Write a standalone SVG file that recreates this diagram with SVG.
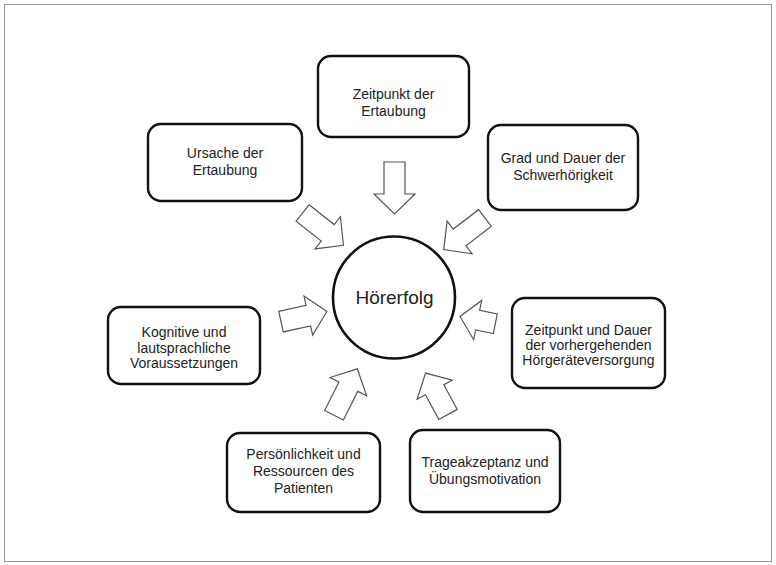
<svg xmlns="http://www.w3.org/2000/svg" width="776" height="565" viewBox="0 0 776 565">
<style>
.box{fill:#fff;stroke:#111;stroke-width:2.4}
.t{font-family:"Liberation Sans",Arial,sans-serif;font-size:14px;fill:#222;text-anchor:middle}
.arr{fill:#fff;stroke:#555;stroke-width:1.2;stroke-linejoin:miter}
</style>
<defs>
<path id="arrL" d="M0,-10.5 H32 V-20.5 L52,0 L32,20.5 V10.5 H0 Z"/>
<path id="arrM" d="M0,-10.5 H28 V-20 L47,0 L28,20 V10.5 H0 Z"/>
<path id="arrS" d="M0,-10 H18 V-20 L36,0 L18,20 V10 H0 Z"/>
</defs>
<rect x="0" y="0" width="776" height="565" fill="#fff"/>
<rect x="4.5" y="4.5" width="767" height="557" fill="none" stroke="#999" stroke-width="1"/>

<g id="connectors">
<use href="#arrL" class="arr" transform="translate(394.5,162) rotate(90)"/>
<use href="#arrL" class="arr" transform="translate(302.6,213) rotate(38.3)"/>
<use href="#arrL" class="arr" transform="translate(485,218) rotate(142.6)"/>
<use href="#arrM" class="arr" transform="translate(281,321.7) rotate(-12.5)"/>
<use href="#arrS" class="arr" transform="translate(495.3,323.7) rotate(191.5)"/>
<use href="#arrL" class="arr" transform="translate(334,415.3) rotate(-63.4)"/>
<use href="#arrM" class="arr" transform="translate(448,414.4) rotate(-118.5)"/>
</g>

<g id="hoererfolg">
<circle cx="394" cy="297.5" r="61" fill="#fff" stroke="#111" stroke-width="2.6"/>
<text x="394.5" y="304" font-family="Liberation Sans, Arial, sans-serif" font-size="19" fill="#222" text-anchor="middle">Hörerfolg</text>
</g>

<g id="zeitpunkt-ertaubung">
<rect class="box" x="318" y="56" width="151" height="81" rx="13"/>
<text class="t" x="393.5" y="99">Zeitpunkt der</text>
<text class="t" x="393.5" y="116">Ertaubung</text>
</g>

<g id="ursache">
<rect class="box" x="148" y="124" width="154" height="77" rx="13"/>
<text class="t" x="225" y="158">Ursache der</text>
<text class="t" x="225" y="175">Ertaubung</text>
</g>

<g id="grad-dauer">
<rect class="box" x="488" y="125" width="150" height="85" rx="13"/>
<text class="t" x="563" y="163">Grad und Dauer der</text>
<text class="t" x="563" y="180">Schwerhörigkeit</text>
</g>

<g id="kognitive">
<rect class="box" x="108" y="307" width="152" height="77" rx="13"/>
<text class="t" x="184" y="337">Kognitive und</text>
<text class="t" x="184" y="352.5">lautsprachliche</text>
<text class="t" x="184" y="368">Voraussetzungen</text>
</g>

<g id="hoergeraeteversorgung">
<rect class="box" x="512" y="298" width="153" height="90" rx="13"/>
<text class="t" x="588.5" y="335">Zeitpunkt und Dauer</text>
<text class="t" x="588.5" y="350">der vorhergehenden</text>
<text class="t" x="588.5" y="365">Hörgeräteversorgung</text>
</g>

<g id="persoenlichkeit">
<rect class="box" x="227" y="433" width="153" height="79" rx="13"/>
<text class="t" x="303.5" y="459">Persönlichkeit und</text>
<text class="t" x="303.5" y="476">Ressourcen des</text>
<text class="t" x="303.5" y="493">Patienten</text>
</g>

<g id="trageakzeptanz">
<rect class="box" x="410" y="430" width="150" height="82" rx="13"/>
<text class="t" x="485" y="467">Trageakzeptanz und</text>
<text class="t" x="485" y="484">Übungsmotivation</text>
</g>
</svg>
